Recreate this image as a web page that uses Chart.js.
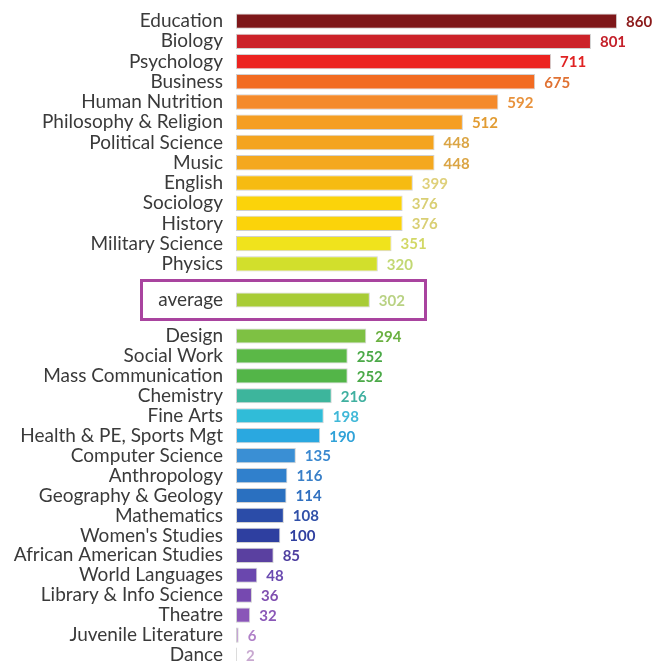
<!DOCTYPE html>
<html>
<head>
<meta charset="utf-8">
<script src="https://cdn.jsdelivr.net/npm/chart.js@4.4.1/dist/chart.umd.min.js"></script>
<style>
  html, body { margin: 0; padding: 0; background: #fff; overflow: hidden; }
  body { width: 657px; height: 661px; position: relative; }
  canvas { position: absolute; left: 0; }
  #avgBox { position: absolute; left: 140px; top: 279px; width: 281px; height: 36px; border: 3px solid #a9449f; }
</style>
</head>
<body>
<div id="avgBox"></div>
<canvas id="topChart" width="657" height="263" style="top:11px"></canvas>
<canvas id="avgChart" width="657" height="20" style="top:290px"></canvas>
<canvas id="bottomChart" width="657" height="339" style="top:326px"></canvas>
<script>
// ==================== DATA ====================
const topLabels = ['Education', 'Biology', 'Psychology', 'Business', 'Human Nutrition', 'Philosophy & Religion', 'Political Science', 'Music', 'English', 'Sociology', 'History', 'Military Science', 'Physics'];
const topValues = [860, 801, 711, 675, 592, 512, 448, 448, 399, 376, 376, 351, 320];

const avgLabels = ['average'];
const avgValues = [302];

const bottomLabels = ['Design', 'Social Work', 'Mass Communication', 'Chemistry', 'Fine Arts', 'Health & PE, Sports Mgt', 'Computer Science', 'Anthropology', 'Geography & Geology', 'Mathematics', "Women's Studies", 'African American Studies', 'World Languages', 'Library & Info Science', 'Theatre', 'Juvenile Literature', 'Dance'];
const bottomValues = [294, 252, 252, 216, 198, 190, 135, 116, 114, 108, 100, 85, 48, 36, 32, 6, 2];

// ==================== COLOURS ====================
const topBarColors = ['#7e1719', '#cc2229', '#ec2320', '#f26b22', '#f48a2b', '#f59e22', '#f4a41f', '#f4a81f', '#f6bb12', '#fbd30a', '#fbd30a', '#f0e31c', '#d2df2c'];
const topTextColors = ['#8b1a1a', '#c4202a', '#e02222', '#e07233', '#e8923c', '#e29c33', '#dba544', '#dba544', '#dfd07a', '#d9cf74', '#d9cf74', '#d2d866', '#c2d873'];
const avgBarColors = ['#a8cc36'];
const avgTextColors = ['#b9d283'];
const bottomBarColors = ['#7ec143', '#5bb847', '#53b548', '#3db59c', '#30bcd8', '#2aa8e0', '#3a8fd4', '#3080cc', '#2a70c0', '#2b4ca8', '#2e3fa0', '#5a40a0', '#6a47ae', '#7649b0', '#8a56b8', '#b07cc8', '#c8a2d2'];
const bottomTextColors = ['#6ab040', '#4ba948', '#4ba948', '#40b0a0', '#40b8d8', '#30a2d8', '#3a88d0', '#3a80c8', '#3070c0', '#3050a8', '#3040a0', '#5040a0', '#6a4ab0', '#8050b0', '#8a58b8', '#b080c8', '#c8a8d0'];

const LABEL_FONT = { family: 'Lato, "Liberation Sans", sans-serif', size: 19 };

// value labels drawn next to each bar
const valueLabels = {
    id: 'valueLabels',
    afterDatasetsDraw(chart, args, opts) {
        const ctx = chart.ctx;
        const meta = chart.getDatasetMeta(0);
        const data = chart.data.datasets[0].data;
        ctx.save();
        ctx.font = 'bold 15px Lato, "Liberation Sans", sans-serif';
        ctx.textBaseline = 'middle';
        ctx.textAlign = 'left';
        meta.data.forEach((bar, i) => {
            ctx.fillStyle = opts.colors[i];
            ctx.fillText(String(data[i]), bar.x + 9, bar.y + 1);
        });
        ctx.restore();
    }
};

function makeChart(id, labels, values, barColors, textColors) {
    const ctx = document.getElementById(id).getContext('2d');
    return new Chart(ctx, {
        type: 'bar',
        data: {
            labels: labels,
            datasets: [{
                data: values,
                backgroundColor: barColors,
                borderColor: 'rgba(0,0,0,0.18)',
                borderWidth: 1,
                borderSkipped: false,
                barPercentage: 0.76,
                categoryPercentage: 1
            }]
        },
        options: {
            indexAxis: 'y',
            responsive: false,
            animation: false,
            layout: { padding: 0 },
            scales: {
                x: { min: 0, max: 950, display: false },
                y: {
                    grid: { display: false, drawTicks: false },
                    border: { display: false },
                    ticks: { color: '#3a3a3a', font: LABEL_FONT, padding: 13, autoSkip: false },
                    afterFit: (scale) => {
                        scale.width = 236;
                        // no extra room above/below the rows
                        scale.paddingTop = 0;
                        scale.paddingBottom = 0;
                    }
                }
            },
            plugins: {
                legend: { display: false },
                tooltip: { enabled: false },
                valueLabels: { colors: textColors }
            }
        },
        plugins: [valueLabels]
    });
}

makeChart('topChart', topLabels, topValues, topBarColors, topTextColors);
makeChart('avgChart', avgLabels, avgValues, avgBarColors, avgTextColors);
makeChart('bottomChart', bottomLabels, bottomValues, bottomBarColors, bottomTextColors);
</script>
</body>
</html>
